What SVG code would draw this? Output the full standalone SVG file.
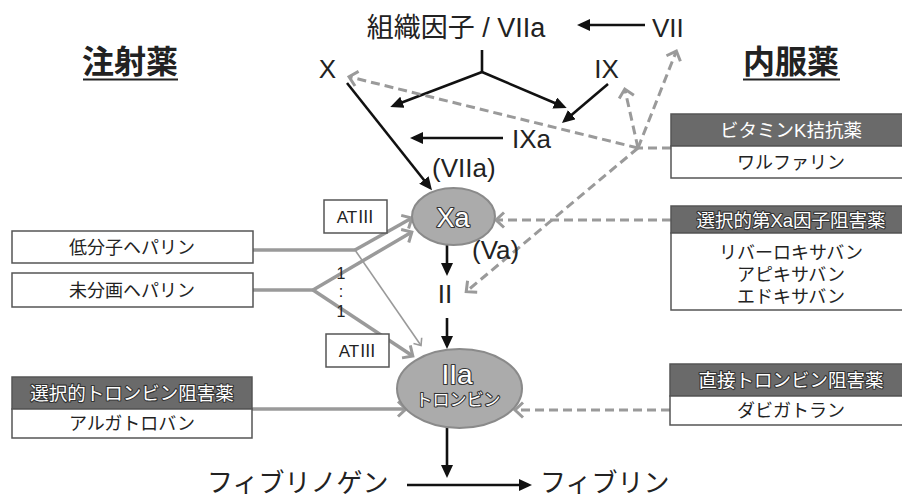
<svg xmlns="http://www.w3.org/2000/svg" width="902" height="502" viewBox="0 0 902 502">
  <defs>
    <style>
      text { font-family: "Liberation Sans", "Noto Sans CJK JP", sans-serif; fill: #222; }
      .big { font-size: 26px; }
      .side { font-size: 32px; font-weight: bold; }
      .cjk { font-family: "Noto Sans CJK JP", sans-serif; }
      .box { fill: #fff; stroke: #555; stroke-width: 1.5; }
      .hdr { fill: #6a6a6a; stroke: #555; stroke-width: 1.5; }
      .btxt { font-size: 18px; text-anchor: middle; }
      .htxt { font-size: 18.5px; text-anchor: middle; fill: #fff; }
      .outl { fill: #fff; stroke: #333; stroke-width: 2.2; paint-order: stroke; stroke-linejoin: round; }
      .blk { stroke: #111; stroke-width: 2.6; fill: none; marker-end: url(#ab); }
      .gry { stroke: #9a9a9a; stroke-width: 3.5; fill: none; marker-end: url(#ag); }
      .thin { stroke: #9a9a9a; stroke-width: 1.6; fill: none; marker-end: url(#agt); }
      .dsh { stroke: #9a9a9a; stroke-width: 3; fill: none; stroke-dasharray: 9 5; }
      .dshA { marker-end: url(#ag); }
      .ell { fill: #ababab; stroke: #8a8a8a; stroke-width: 2; }
    </style>
    <marker id="ab" viewBox="0 0 13 12" refX="9" refY="6" markerWidth="13" markerHeight="12" markerUnits="userSpaceOnUse" orient="auto">
      <path d="M0,0 L13,6 L0,12 z" fill="#111"/>
    </marker>
    <marker id="ag" viewBox="-2 -2 13 19" refX="7" refY="7.5" markerWidth="13" markerHeight="19" markerUnits="userSpaceOnUse" orient="auto">
      <path d="M0,0 L8,7.5 L0,15" fill="none" stroke="#9a9a9a" stroke-width="3"/>
    </marker>
    <marker id="agt" viewBox="-2 -2 10 14" refX="6" refY="5" markerWidth="10" markerHeight="14" markerUnits="userSpaceOnUse" orient="auto">
      <path d="M0,0 L6,5 L0,10" fill="none" stroke="#9a9a9a" stroke-width="1.6"/>
    </marker>
  </defs>

  <!-- column headings -->
  <g id="injection">
    <text x="130" y="73" class="side" text-anchor="middle">注射薬</text>
    <line x1="83" y1="79.5" x2="178" y2="79.5" stroke="#222" stroke-width="2"/>
  </g>
  <g id="oral">
    <text x="791" y="73" class="side" text-anchor="middle">内服薬</text>
    <line x1="743" y1="79.5" x2="840" y2="79.5" stroke="#222" stroke-width="2"/>
  </g>

  <!-- connectors -->
  <g id="connectors">
    <!-- coagulation cascade (black) -->
    <path class="blk" d="M645,25 L581,25"/>
    <path d="M482,50 L482,72" stroke="#111" stroke-width="2.6" fill="none"/>
    <path class="blk" d="M482,72 L394,105.5"/>
    <path class="blk" d="M482,72 L563,106.5"/>
    <path class="blk" d="M608,84 L565,120.5"/>
    <path class="blk" d="M503,138 L414,138"/>
    <path class="blk" d="M347,83 L429.5,187"/>
    <path class="blk" d="M447,245 L447,272"/>
    <path class="blk" d="M447,318 L447,345"/>
    <path class="blk" d="M447,428 L447,474"/>
    <path class="blk" d="M407,485 L528,485"/>

    <!-- heparins -->
    <path d="M253,250 L355,250" stroke="#9a9a9a" stroke-width="3.5" fill="none"/>
    <path class="gry" d="M355,250 L411,218.5"/>
    <path class="thin" d="M355,250 L421,345.5"/>
    <path d="M253,290 L313,290" stroke="#9a9a9a" stroke-width="3.5" fill="none"/>
    <path class="gry" d="M313,290 L411,232.5"/>
    <path class="gry" d="M313,290 L412,355.5"/>

    <!-- argatroban -->
    <path class="gry" d="M252,409 L405,409"/>

    <!-- vitamin K antagonist (dashed) -->
    <path class="dsh" d="M671,148 L638,148"/>
    <path class="dsh dshA" d="M638,148 L350,77"/>
    <path class="dsh dshA" d="M638,148 L625,90"/>
    <path class="dsh dshA" d="M638,148 L676,52"/>
    <path class="dsh dshA" d="M638,148 L467,291"/>

    <!-- factor Xa inhibitor / direct thrombin inhibitor (dashed) -->
    <path class="dsh dshA" d="M671,220 L497,220"/>
    <path class="dsh dshA" d="M670,410 L516,410"/>
  </g>

  <!-- cascade labels -->
  <g id="tf-viia"><text x="456" y="37" font-size="27" text-anchor="middle">組織因子 / VIIa</text></g>
  <g id="vii"><text x="652" y="37" class="big">VII</text></g>
  <g id="x"><text x="327.5" y="78" class="big" text-anchor="middle">X</text></g>
  <g id="ix"><text x="606.5" y="78" class="big" text-anchor="middle">IX</text></g>
  <g id="ixa"><text x="512" y="148" class="big">IXa</text></g>
  <g id="viia-label"><text x="432" y="177" class="big">(VIIa)</text></g>
  <g id="va-label"><text x="472" y="259" class="big">(Va)</text></g>
  <g id="ii"><text x="445" y="303" class="big" text-anchor="middle">II</text></g>

  <g id="xa">
    <ellipse class="ell" cx="453.5" cy="216.5" rx="41.5" ry="28.5"/>
    <text x="453" y="227" font-size="27" text-anchor="middle" class="outl">Xa</text>
  </g>
  <g id="iia">
    <ellipse class="ell" cx="459.5" cy="388.5" rx="62.5" ry="39.5"/>
    <text x="457" y="384" font-size="28" text-anchor="middle" class="outl">IIa</text>
    <text x="458" y="406" font-size="17" text-anchor="middle" class="outl">トロンビン</text>
  </g>

  <g id="fibrinogen"><text x="207" y="492" font-size="26">フィブリノゲン</text></g>
  <g id="fibrin"><text x="540" y="492" font-size="26">フィブリン</text></g>

  <!-- antithrombin boxes -->
  <g id="at3-upper">
    <rect class="box" x="324" y="200" width="63" height="33"/>
    <text x="355.5" y="223" font-size="17" text-anchor="middle">AT<tspan class="cjk">Ⅲ</tspan></text>
  </g>
  <g id="at3-lower">
    <rect class="box" x="326" y="334" width="63" height="33"/>
    <text x="357.5" y="357" font-size="17" text-anchor="middle">AT<tspan class="cjk">Ⅲ</tspan></text>
  </g>

  <!-- ratio -->
  <g id="ratio" font-size="16" class="cjk">
    <text x="341" y="279" text-anchor="middle">1</text>
    <text x="341" y="297" text-anchor="middle">:</text>
    <text x="341" y="317" text-anchor="middle">1</text>
  </g>

  <!-- injectable drugs -->
  <g id="lmwh">
    <rect class="box" x="12" y="231" width="241" height="32"/>
    <text x="132" y="253.5" class="btxt">低分子ヘパリン</text>
  </g>
  <g id="ufh">
    <rect class="box" x="12" y="273" width="241" height="34"/>
    <text x="132" y="296.5" class="btxt">未分画ヘパリン</text>
  </g>
  <g id="argatroban">
    <rect class="hdr" x="12" y="377" width="240" height="32"/>
    <rect class="box" x="12" y="409" width="240" height="29"/>
    <text x="132" y="399.5" class="htxt outl">選択的トロンビン阻害薬</text>
    <text x="132" y="430" class="btxt">アルガトロバン</text>
  </g>

  <!-- oral drugs -->
  <g id="warfarin">
    <rect class="hdr" x="671" y="114" width="241" height="32"/>
    <rect class="box" x="671" y="146" width="241" height="32"/>
    <text x="791" y="136.5" class="htxt">ビタミンK拮抗薬</text>
    <text x="791" y="168.5" class="btxt">ワルファリン</text>
  </g>
  <g id="xa-inhibitors">
    <rect class="hdr" x="671" y="206" width="241" height="27"/>
    <rect class="box" x="671" y="233" width="241" height="77"/>
    <text x="791" y="226.5" class="htxt outl">選択的第Xa因子阻害薬</text>
    <text x="791" y="259" class="btxt">リバーロキサバン</text>
    <text x="791" y="281" class="btxt">アピキサバン</text>
    <text x="791" y="303" class="btxt">エドキサバン</text>
  </g>
  <g id="dabigatran">
    <rect class="hdr" x="670" y="364" width="242" height="32"/>
    <rect class="box" x="670" y="396" width="242" height="29"/>
    <text x="791" y="386.5" class="htxt outl">直接トロンビン阻害薬</text>
    <text x="791" y="417" class="btxt">ダビガトラン</text>
  </g>
</svg>
